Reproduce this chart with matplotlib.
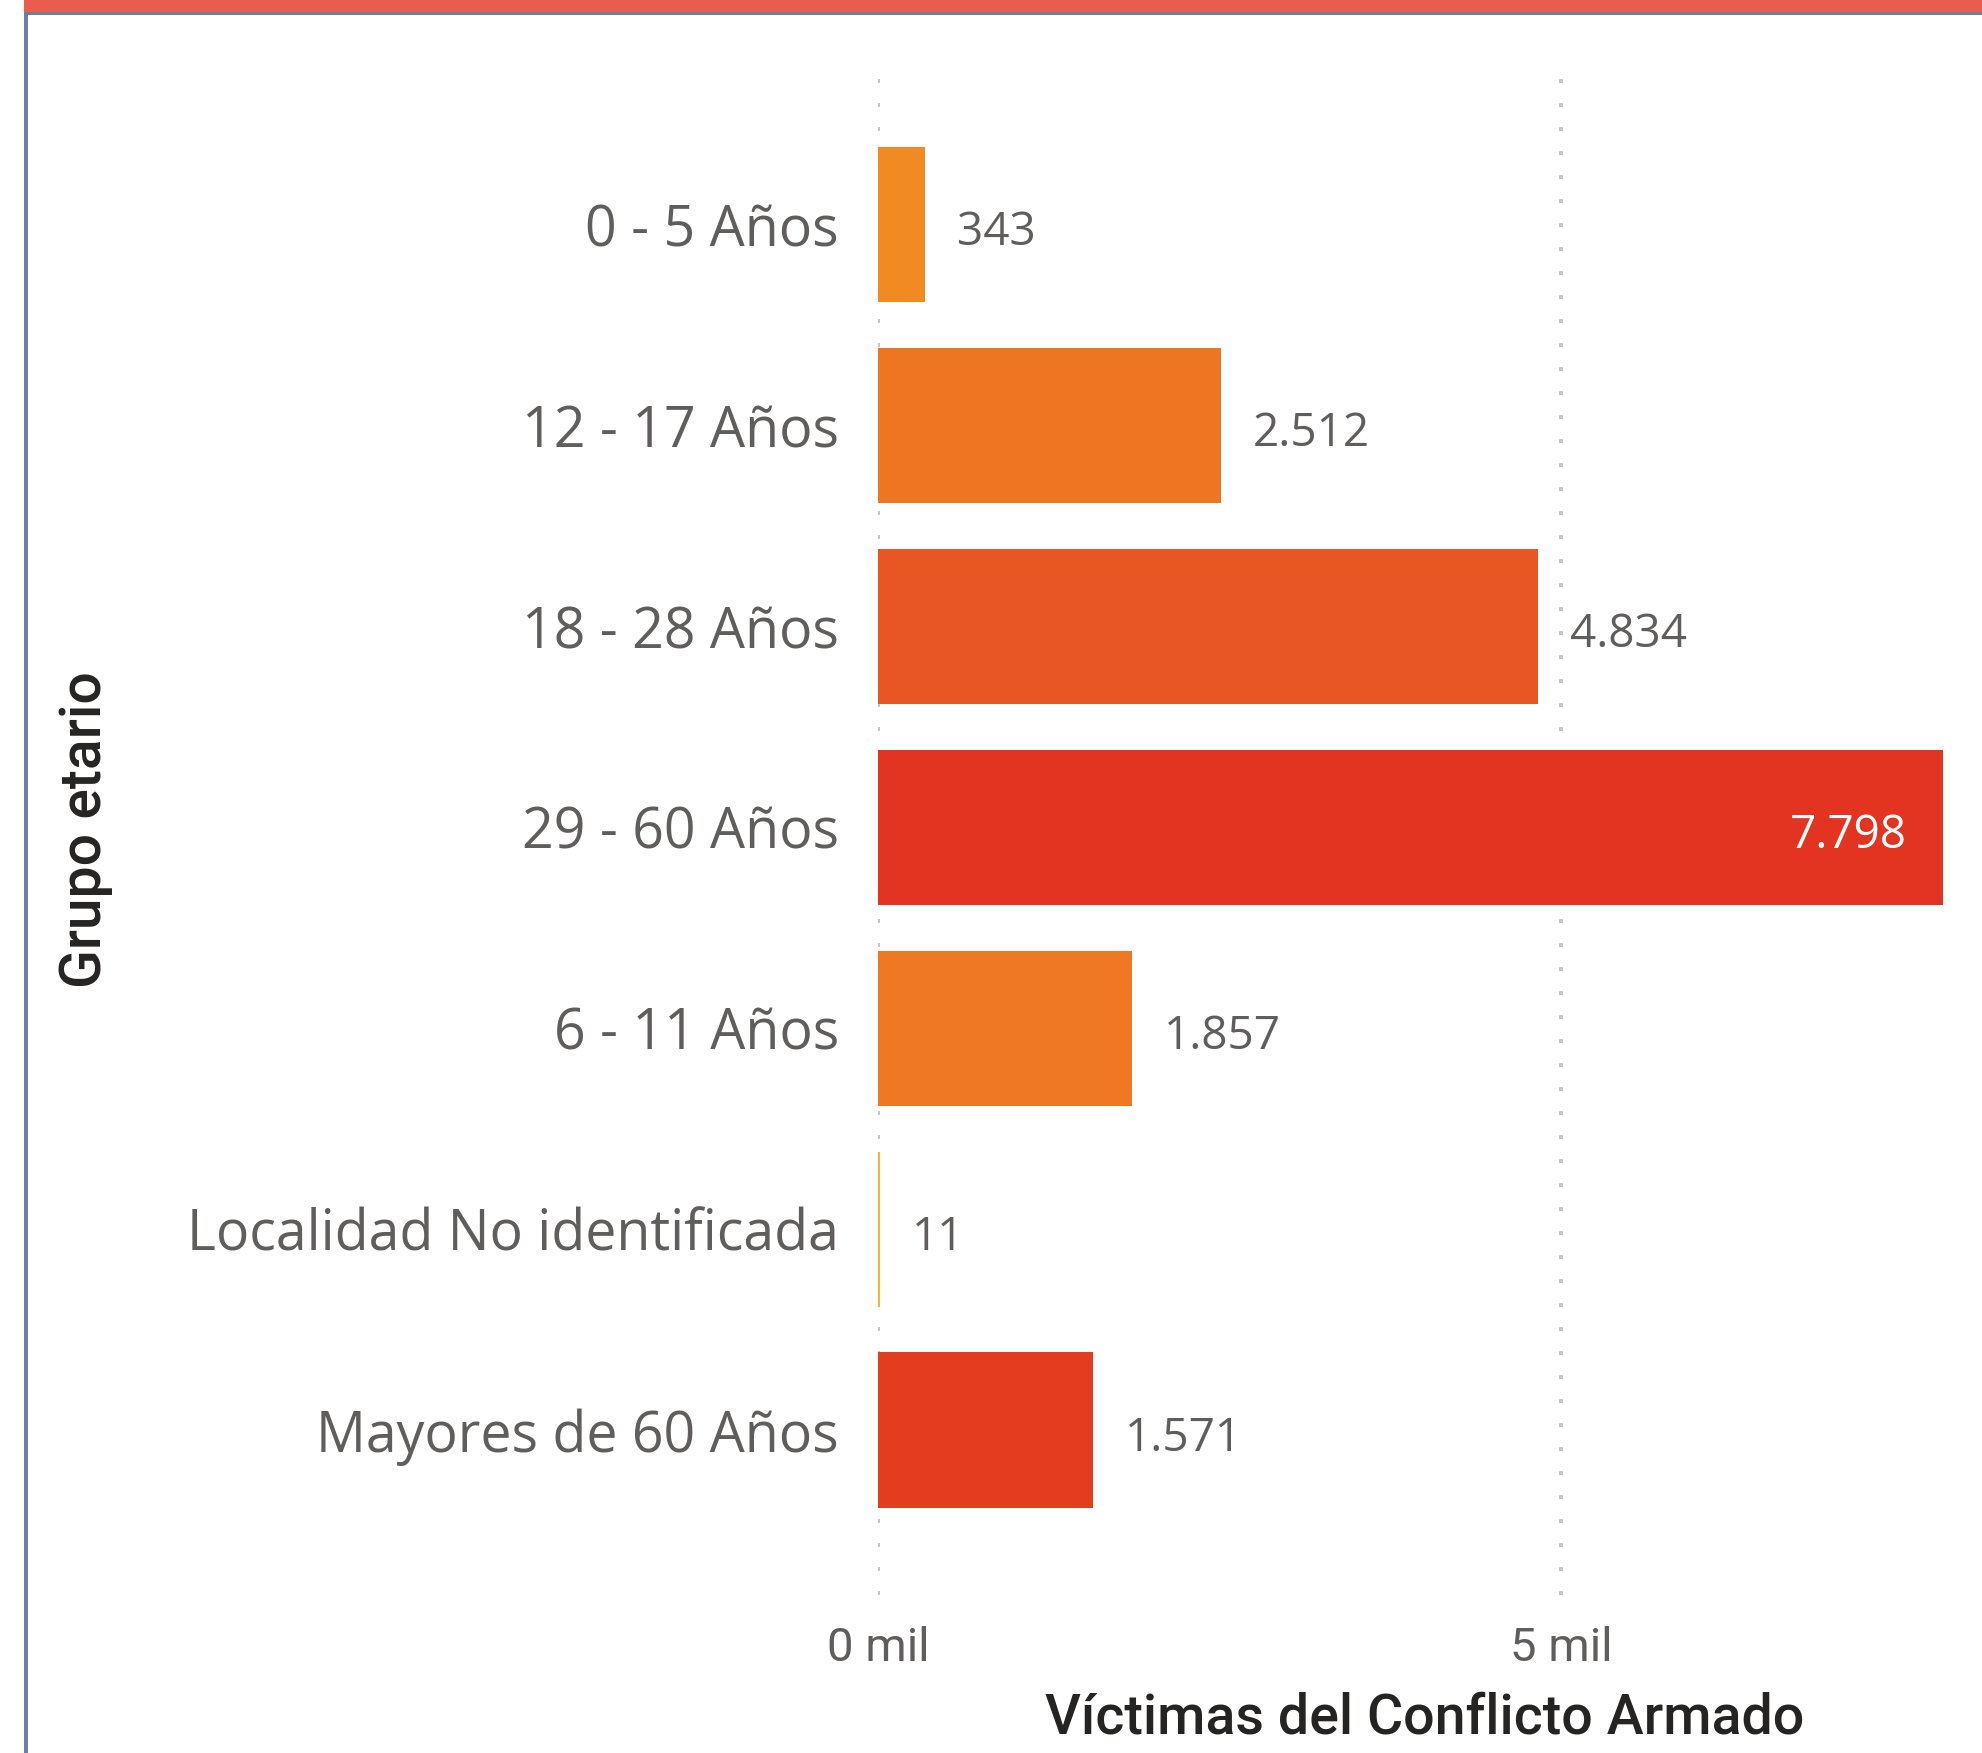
import matplotlib.pyplot as plt
from matplotlib.patches import Rectangle

# data
groups = ['0 - 5 Años', '12 - 17 Años', '18 - 28 Años', '29 - 60 Años',
          '6 - 11 Años', 'Localidad No identificada', 'Mayores de 60 Años']
victims = [343, 2512, 4834, 7798, 1857, 11, 1571]
bar_colors = ['#F28A24', '#EE7623', '#E85623', '#E23420', '#EE7823', '#F9B42A', '#E33D20']
xticks = [0, 5000]
xtick_labels = ['0 mil', '5 mil']

W, H = 1982, 1753
fig = plt.figure(figsize=(W / 100, H / 100), dpi=100)
fig.patch.set_facecolor('white')

# frame: red band on top, blue-grey rule and left border
fig.add_artist(Rectangle((24 / W, 1 - 12 / H), 1, 12 / H, transform=fig.transFigure,
                         color='#E95D4F', lw=0))
fig.add_artist(Rectangle((24 / W, 1 - 15 / H), 1, 3.5 / H, transform=fig.transFigure,
                         color='#6E819C', lw=0))
fig.add_artist(Rectangle((24 / W, 0), 4 / W, 1 - 12 / H, transform=fig.transFigure,
                         color='#6E819C', lw=0))

ax = fig.add_axes([878 / W, 1 - 1595 / H, (1971 - 878) / W, (1595 - 78) / H])
ax.set_xlim(0, 8000)
ax.set_ylim(6.82, -0.73)

pos = list(range(len(groups)))
ax.barh(pos, victims, height=0.774, color=bar_colors, zorder=2)

for x in xticks:
    ax.axvline(x, color='#C8C8C8', lw=2.88, linestyle=(0, (1, 5)),
               dash_capstyle='butt', zorder=1)

label_font = ['Open Sans', 'DejaVu Sans']
for i, v in enumerate(victims):
    txt = f'{v:,}'.replace(',', '.')
    if v > 7000:
        ax.annotate(txt, (v, i), xytext=(-26, -6), textcoords='offset points',
                    ha='right', va='center', color='white', fontsize=33,
                    family=label_font)
    else:
        ax.annotate(txt, (v, i), xytext=(23, -6), textcoords='offset points',
                    ha='left', va='center', color='#605E5C', fontsize=33,
                    family=label_font)

ax.set_yticks(pos)
ax.set_yticklabels(groups, fontsize=40, color='#605E5C', family=label_font)
ax.set_xticks(xticks)
ax.set_xticklabels(xtick_labels, fontsize=34, color='#605E5C',
                   family=['Liberation Sans Narrow', 'Roboto', 'DejaVu Sans'])
ax.tick_params(axis='y', length=0, pad=28)
ax.tick_params(axis='x', length=0, pad=22)

for s in ax.spines.values():
    s.set_visible(False)

ax.set_xlabel('Víctimas del Conflicto Armado', fontsize=40, color='#252423',
              family=['Roboto', 'DejaVu Sans'], fontweight='medium', labelpad=16)
fig.text(86 / W, 1 - 830 / H, 'Grupo etario', rotation=90, ha='center', va='center',
         fontsize=41, color='#252423', family=['Roboto', 'DejaVu Sans'],
         fontweight='medium')

fig.savefig('out.png', dpi=100)
